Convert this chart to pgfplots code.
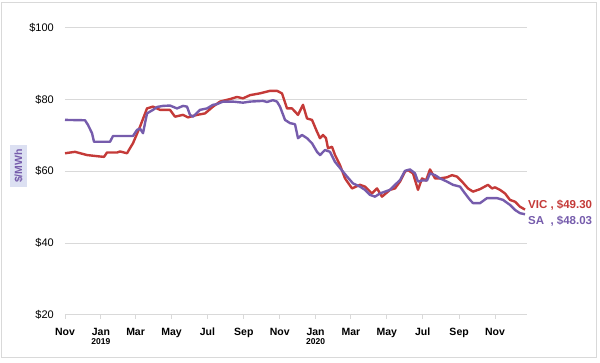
\documentclass[border=0pt]{standalone}
\usepackage{pgfplots}
\pgfplotsset{compat=1.18}
\usepackage{fontspec}
\setmainfont{Liberation Sans}
\definecolor{vic}{RGB}{196,58,56}
\definecolor{sa}{RGB}{118,92,172}
\definecolor{lbl}{RGB}{220,224,242}
\definecolor{gridc}{RGB}{217,217,217}
\begin{document}
\begin{tikzpicture}[x=1pt,y=1pt]
\useasboundingbox (0,0) rectangle (600,362);
\draw[gridc, line width=0.8pt] (1.5,4.3) rectangle (596,359.5);
\node[fill=lbl, rotate=90, inner sep=1pt, text=sa, font=\bfseries\fontsize{10.5}{10.5}\selectfont, minimum width=42pt, minimum height=17pt] at (18.5,196) {\$/MWh};
\begin{axis}[at={(65pt,47.3pt)}, anchor=south west, scale only axis,
  width=462pt, height=287pt, xmin=0, xmax=785.4, ymin=20, ymax=100,
  axis line style={draw=none},
  ymajorgrids=true, grid style={color=gridc, line width=0.9pt},
  ytick={20,40,60,80,100}, yticklabels={\$20,\$40,\$60,\$80,\$100},
  ytick style={draw=none},
  yticklabel style={anchor=east, inner sep=0pt, xshift=-11pt, font=\fontsize{11}{12}\selectfont},
  xtick={0,61,120,181,242,304,365,426,486,547,608,670,731},
  xticklabels={Nov,{Jan\\[-1pt]{\fontsize{8.5}{9}\selectfont 2019}},Mar,May,Jul,Sep,Nov,{Jan\\[-1pt]{\fontsize{8.5}{9}\selectfont 2020}},Mar,May,Jul,Sep,Nov},
  xtick pos=bottom, xtick align=outside, major tick length=4pt,
  xtick style={color=gridc, line width=0.9pt},
  xticklabel style={anchor=north, align=center, inner sep=0pt, yshift=-9pt, font=\bfseries\fontsize{10.5}{10.5}\selectfont},
  clip=false,
]
\addplot[vic, line width=2.4pt, line join=round] coordinates {
(0,65.0) (17,65.4) (37.4,64.5) (59.5,64.1) (66.3,64.0) (71.4,65.2) (88.4,65.2) (93.5,65.5) (105.4,65.0)
(115.6,67.8) (127.5,72.4) (139.4,77.5) (149.6,78.0) (161.5,77.1) (178.5,77.1) (187,75.2) (200.6,75.7)
(209,75.0) (224.4,75.7) (238,76.1) (251.6,78.0) (263.5,79.4) (280.5,80.1) (292.4,80.7) (302.6,80.3)
(314.5,81.2) (331.5,81.7) (348.5,82.4) (360.4,82.4) (368.9,81.7) (377.4,77.5) (385.9,77.5) (396.1,75.7)
(404.6,78.5) (411.4,74.7) (419.9,74.3) (428.4,71.0) (433.5,69.2) (438.6,70.1) (443.7,69.2) (447.1,66.4)
(453.9,66.8) (459,64.5) (467.5,61.7) (476,58.0) (487.9,55.2) (501.5,56.2) (510,55.7) (521.9,53.8)
(530.4,55.2) (538.9,52.9) (552.5,54.8) (561,55.2) (569.5,57.1) (578,59.9) (583.1,60.3) (591.6,59.4)
(600.1,54.8) (606.9,58.0) (613.7,57.4) (620.5,60.5) (629,58.0) (637.5,58.0) (649.4,58.3) (657.9,58.9)
(666.4,58.5) (674.9,57.1) (685.1,55.2) (693.6,54.3) (705.5,55.0) (719.1,56.2) (725.9,55.2) (731,55.5)
(739.5,54.8) (748,53.8) (756.5,52.0) (765,51.5) (773.5,50.1) (782,49.3)
};
\addplot[sa, line width=2.4pt, line join=round] coordinates {
(0,74.3) (34,74.2) (39.1,72.9) (45.9,70.6) (49.3,68.2) (76.5,68.2) (81.6,69.8) (115.6,69.8) (122.4,71.5)
(127.5,71.9) (132.6,70.6) (139.4,76.1) (149.6,77.1) (156.4,77.9) (166.6,78.2) (178.5,78.3) (190.4,77.5)
(200.6,78.2) (207.4,78.0) (212.5,75.7) (217.6,75.2) (229.5,77.1) (241.4,77.5) (251.6,78.5) (258.4,78.7)
(268.6,79.4) (285.6,79.4) (302.6,79.1) (314.5,79.4) (336.6,79.6) (343.4,79.3) (353.6,79.8) (360.4,79.4)
(365.5,78.0) (374,74.3) (382.5,73.4) (391,73.1) (396.1,69.2) (402.9,70.1) (411.4,69.2) (419.9,67.8)
(428.4,65.4) (433.5,64.5) (442,65.9) (450.5,65.4) (459,62.6) (467.5,60.9) (479.4,58.5) (489.6,56.6)
(501.5,55.7) (510,54.8) (518.5,53.4) (527,52.9) (535.5,53.8) (544,54.3) (552.5,54.8) (561,56.2)
(569.5,57.5) (578,60.1) (586.5,60.5) (595,59.4) (600.1,57.1) (606.9,57.4) (615.4,57.4) (620.5,59.4)
(629,58.9) (637.5,58.0) (649.4,57.1) (659.6,56.2) (671.5,55.7) (680,53.8) (688.5,52.0) (693.6,51.1)
(705.5,51.1) (717.4,52.5) (734.4,52.5) (744.6,52.0) (756.5,50.6) (765,49.2) (773.5,48.3) (782,48.0)
};
\node[anchor=west, text=vic, font=\bfseries\fontsize{11.5}{11.5}\selectfont, inner sep=0pt] at (axis cs:787,50.6) {VIC , \$49.30};
\node[anchor=west, text=sa, font=\bfseries\fontsize{11.5}{11.5}\selectfont, inner sep=0pt] at (axis cs:787,46.0) {\rlap{SA}\phantom{VIC} , \$48.03};
\end{axis}
\end{tikzpicture}
\end{document}
